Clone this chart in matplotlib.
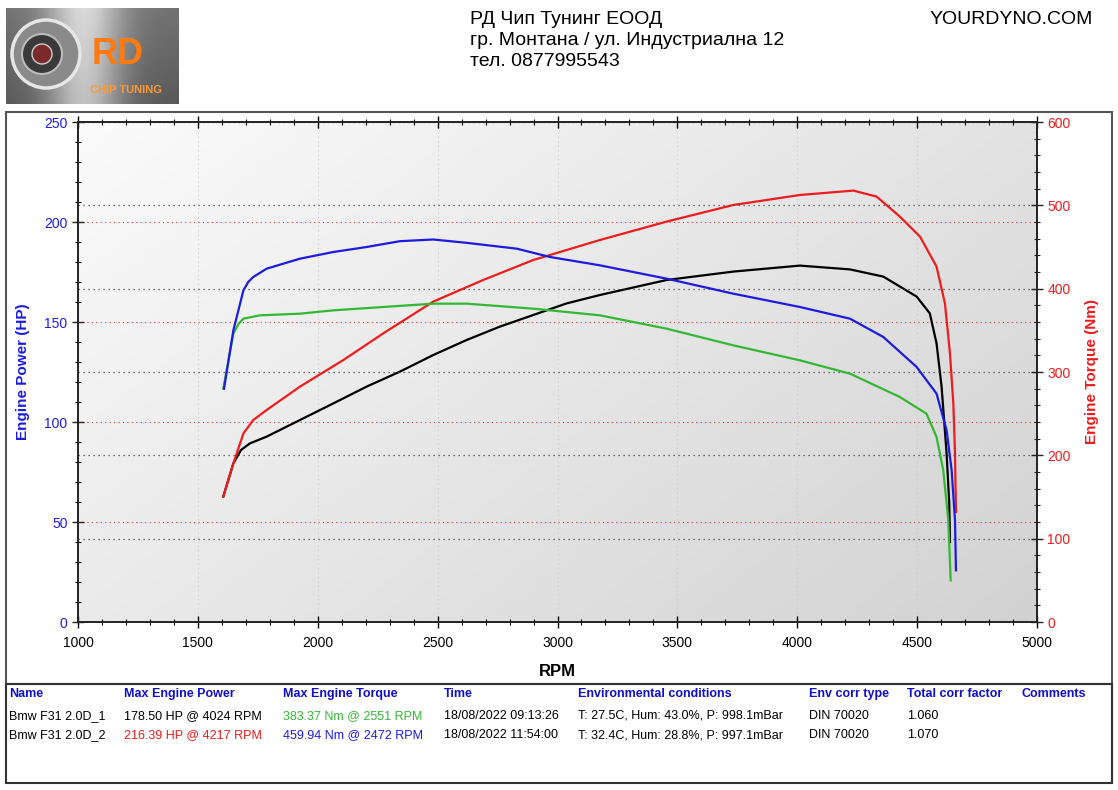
import numpy as np
import matplotlib
matplotlib.use('Agg')
import matplotlib.pyplot as plt
from matplotlib.colors import LinearSegmentedColormap
from matplotlib.patches import Rectangle, Circle
from matplotlib.ticker import MultipleLocator

plt.rcParams['font.family'] = ['Liberation Sans', 'DejaVu Sans']

# run 1 - power (HP), black
run1_power_rpm = [1606, 1648, 1680, 1717, 1787, 1926, 2065, 2204, 2343, 2482, 2621, 2760, 2899,
                  3038, 3177, 3455, 3733, 4011, 4220, 4359, 4498, 4553, 4581, 4602, 4623, 4634, 4637]
run1_power_hp = [62.7, 79.3, 86.0, 89.3, 92.7, 101.0, 109.3, 117.7, 125.2, 133.5, 141.0, 147.7, 153.5,
                 159.3, 163.5, 171.0, 175.2, 178.2, 176.3, 172.7, 162.7, 154.3, 139.3, 117.7, 84.3, 59.3, 40.0]
# run 1 - torque (Nm), green
run1_torque_rpm = [1606, 1648, 1670, 1690, 1759, 1926, 2065, 2273, 2482, 2621, 2760, 2899, 3038,
                   3177, 3455, 3733, 4011, 4220, 4428, 4539, 4581, 4609, 4630, 4640]
run1_torque_nm = [280, 346, 358, 364, 368, 370, 374, 378, 382, 382, 379, 376, 372,
                  368, 352, 332, 314, 298, 270, 250, 222, 182, 122, 50]
# run 2 - power (HP), red
run2_power_rpm = [1606, 1648, 1690, 1731, 1787, 1926, 2107, 2273, 2482, 2690, 2899, 3038,
                  3177, 3455, 3733, 4011, 4234, 4331, 4428, 4512, 4581, 4616, 4637, 4651, 4658, 4662]
run2_power_hp = [62.7, 79.3, 94.3, 101.0, 106.0, 117.7, 131.0, 144.3, 160.2, 171.0, 181.0, 186.0,
                 191.0, 200.2, 208.5, 213.5, 215.7, 212.7, 202.7, 192.7, 177.7, 159.3, 134.3, 109.3, 84.3, 55.0]
# run 2 - torque (Nm), blue
run2_torque_rpm = [1609, 1648, 1690, 1710, 1731, 1787, 1926, 2065, 2204, 2343, 2482, 2621, 2830,
                   2969, 3177, 3455, 3733, 4011, 4220, 4359, 4498, 4581, 4623, 4644, 4658, 4662]
run2_torque_nm = [280, 350, 398, 408, 414, 424, 436, 444, 450, 457, 459, 455, 448,
                  438, 428, 412, 394, 378, 364, 342, 306, 274, 230, 182, 122, 62]

header_lines = ['РД Чип Тунинг ЕООД', 'гр. Монтана / ул. Индустриална 12', 'тел. 0877995543']
site = 'YOURDYNO.COM'

table_cols = ['Name', 'Max Engine Power', 'Max Engine Torque', 'Time',
              'Environmental conditions', 'Env corr type', 'Total corr factor', 'Comments']
table_rows = [
    ['Bmw F31 2.0D_1', '178.50 HP @ 4024 RPM', '383.37 Nm @ 2551 RPM', '18/08/2022 09:13:26',
     'T: 27.5C, Hum: 43.0%, P: 998.1mBar', 'DIN 70020', '1.060', ''],
    ['Bmw F31 2.0D_2', '216.39 HP @ 4217 RPM', '459.94 Nm @ 2472 RPM', '18/08/2022 11:54:00',
     'T: 32.4C, Hum: 28.8%, P: 997.1mBar', 'DIN 70020', '1.070', ''],
]

BLUE = '#1c1ce0'
RED = '#ee1c1c'
GREEN = '#33b833'
HEAD_BLUE = '#1010c8'

W, H = 1118, 790
fig = plt.figure(figsize=(W / 100, H / 100), dpi=100)


def fx(px):
    return px / W


def fy(py):
    return 1 - py / H


# logo (rough stand-in for the bitmap)
lax = fig.add_axes([fx(6), fy(104), fx(172), 96 / H])
gx, gy = np.meshgrid(np.linspace(0, 1, 200), np.linspace(0, 1, 100))
metal = 0.45 + 0.4 * np.exp(-((gx - 0.45) ** 2) / 0.05) - 0.1 * gy
lax.imshow(metal, cmap='gray', vmin=0, vmax=1, extent=[0, 172, 0, 96], aspect='auto')
lax.add_patch(Circle((40, 50), 34, facecolor='#8a8a8a', edgecolor='#e6e6e6', lw=2.5))
lax.add_patch(Circle((36, 50), 20, facecolor='#3a3a3a', edgecolor='#bbbbbb', lw=1.5))
lax.add_patch(Circle((36, 50), 10, facecolor='#7a2a2a', edgecolor='#cccccc', lw=1))
lax.text(112, 50, 'RD', color='#ff7a10', fontsize=26, fontweight='bold', ha='center', va='center')
lax.text(120, 14, 'CHIP TUNING', color='#ff9a30', fontsize=8, fontweight='bold', ha='center', va='center')
lax.set_xlim(0, 172)
lax.set_ylim(0, 96)
lax.axis('off')

# header text
for i, line in enumerate(header_lines):
    fig.text(fx(470), fy(19 + i * 21.5), line, fontsize=14, ha='left', va='center')
fig.text(fx(1093), fy(19), site, fontsize=14, ha='right', va='center')

# frames
fig.add_artist(Rectangle((fx(6), fy(684)), fx(1106), (684 - 112) / H, transform=fig.transFigure,
                         fill=False, edgecolor='#555555', lw=1.5))
fig.add_artist(Rectangle((fx(6), fy(783)), fx(1106), (783 - 684) / H, transform=fig.transFigure,
                         fill=False, edgecolor='#333333', lw=1.5))

# main axes
ax = fig.add_axes([fx(78), fy(622), fx(959), 500 / H])
cmap = LinearSegmentedColormap.from_list('bg', ['#fbfbfb', '#d2d2d2'])
bx, by = np.meshgrid(np.linspace(0, 1, 300), np.linspace(0, 1, 300))
ax.imshow(0.6 * bx + 0.4 * by, cmap=cmap, extent=[0, 1, 0, 1], transform=ax.transAxes,
          aspect='auto', zorder=0, origin='upper')

ax.set_xlim(1000, 5000)
ax.set_ylim(0, 250)
ax.xaxis.set_major_locator(MultipleLocator(500))
ax.xaxis.set_minor_locator(MultipleLocator(100))
ax.yaxis.set_major_locator(MultipleLocator(50))
ax.yaxis.set_minor_locator(MultipleLocator(10))

ax2 = ax.twinx()
ax2.set_ylim(0, 600)
ax2.yaxis.set_major_locator(MultipleLocator(100))
ax2.yaxis.set_minor_locator(MultipleLocator(20))

ax.grid(axis='x', which='major', color='#cccccc', linestyle=(0, (1, 3)), lw=0.8)
ax.grid(axis='y', which='major', color='#e03030', linestyle=(0, (1, 3)), lw=0.8)
ax2.grid(axis='y', which='major', color='#444444', linestyle=(0, (1, 3)), lw=0.9)

ax.plot(run1_power_rpm, run1_power_hp, color='black', lw=1.6, zorder=3)
ax.plot(run2_power_rpm, run2_power_hp, color=RED, lw=1.6, zorder=3)
ax2.plot(run1_torque_rpm, run1_torque_nm, color=GREEN, lw=1.6, zorder=3)
ax2.plot(run2_torque_rpm, run2_torque_nm, color=BLUE, lw=1.6, zorder=3)

for a in (ax, ax2):
    for s in a.spines.values():
        s.set_color('#222222')
        s.set_linewidth(1.2)

ax.tick_params(axis='both', which='major', direction='inout', length=8, width=1, labelsize=10)
ax.tick_params(axis='both', which='minor', direction='inout', length=5, width=0.8)
ax.tick_params(axis='x', which='both', top=True)
ax.tick_params(axis='y', colors='#222222', labelcolor=BLUE)
ax.tick_params(axis='x', labelcolor='black', pad=6)
ax2.tick_params(axis='y', which='major', direction='inout', length=8, width=1, labelsize=10,
                labelcolor=RED, colors='#222222')
ax2.tick_params(axis='y', which='minor', direction='inout', length=5, width=0.8, colors='#222222')

ax.set_xlabel('RPM', fontsize=12, fontweight='bold', labelpad=10)
ax.set_ylabel('Engine Power (HP)', fontsize=11, fontweight='bold', color=BLUE, labelpad=10)
ax2.set_ylabel('Engine Torque (Nm)', fontsize=11, fontweight='bold', color=RED, labelpad=10)

# table
col_x = [9, 124, 283, 444, 578, 809, 907, 1021]
for cx, c in zip(col_x, table_cols):
    fig.text(fx(cx), fy(694), c, fontsize=9, fontweight='bold', color=HEAD_BLUE, ha='left', va='center')
cell_colors = [
    ['black', 'black', GREEN, 'black', 'black', 'black', 'black', 'black'],
    ['black', RED, BLUE, 'black', 'black', 'black', 'black', 'black'],
]
for r, (row, cols) in enumerate(zip(table_rows, cell_colors)):
    for cx, v, c in zip(col_x, row, cols):
        fig.text(fx(cx), fy(716 + r * 19.5), v, fontsize=9, color=c, ha='left', va='center')

fig.savefig('out.png', dpi=100)
